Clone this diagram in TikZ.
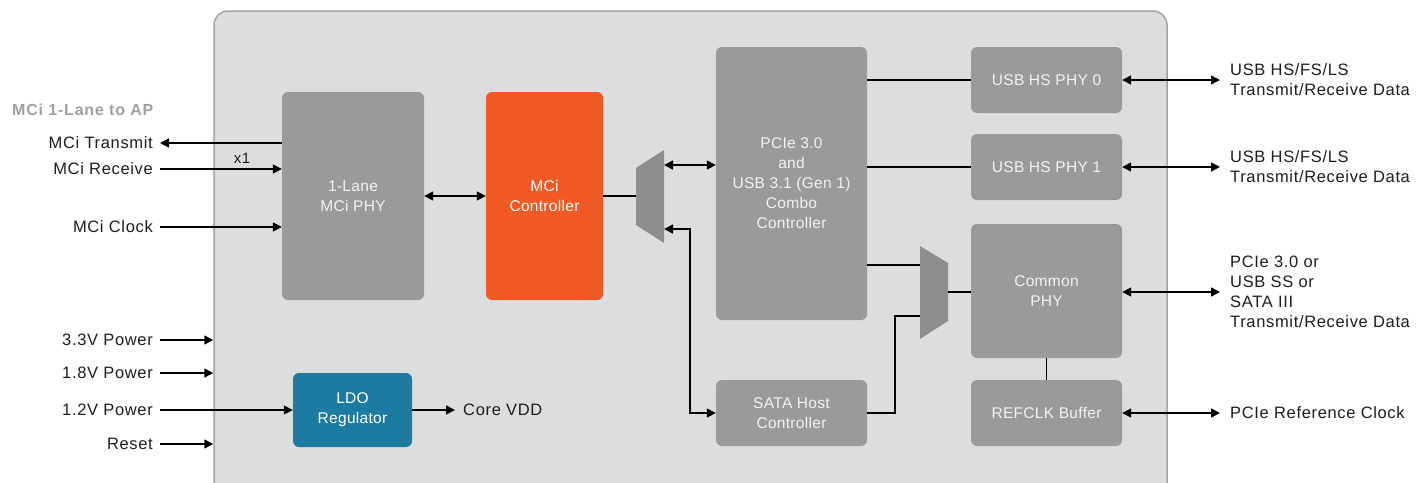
\documentclass[tikz,border=0pt]{standalone}
\usepackage{fontspec}
\setmainfont{Liberation Sans}
\newfontfamily\widefont{Liberation Sans}[LetterSpace=4]
\newfontfamily\midfont{Liberation Sans}[LetterSpace=2]
\usetikzlibrary{arrows.meta}
\definecolor{chipbg}{HTML}{DCDDDF}
\definecolor{chipbd}{HTML}{A3A4A6}
\definecolor{blockc}{HTML}{9A9A9A}
\definecolor{muxc}{HTML}{8E8E8E}
\definecolor{orng}{HTML}{F15A24}
\definecolor{blu}{HTML}{1D7BA1}
\definecolor{lblgray}{HTML}{A0A0A0}
\definecolor{txtc}{HTML}{1E1E1E}
\begin{document}
\begin{tikzpicture}[x=1pt,y=-1pt,
  gbox/.style={fill=blockc, rounded corners=6pt, inner sep=0pt, text=white!95!black, align=center, font=\midfont\fontsize{15.5}{20}\selectfont},
  obox/.style={gbox, fill=orng, text=white},
  bbox/.style={gbox, fill=blu, text=white},
  chip/.style={fill=chipbg, draw=chipbd, line width=1.5pt, rounded corners=14pt, inner sep=0pt},
  ltxt/.style={anchor=east, inner xsep=7pt, inner ysep=0pt, text=txtc, font=\widefont\fontsize{16.5}{20}\selectfont},
  rtxt/.style={anchor=west, inner xsep=10pt, inner ysep=0pt, align=left, text=txtc, font=\widefont\fontsize{16.5}{20}\selectfont},
  conn/.style={line width=1.5pt, draw=black},
  arr/.style={conn, -{Triangle[length=9pt,width=9pt]}},
  dbl/.style={conn, {Triangle[length=9pt,width=9pt]}-{Triangle[length=9pt,width=9pt]}},
]
\useasboundingbox (0,0) rectangle (1420,482);
\fill[white] (0,0) rectangle (1420,482);
% chip outline
\node[chip, minimum width=953pt, minimum height=509pt] (chipb) at (690.5,265.5) {};
% blocks
\node[gbox, minimum width=142pt, minimum height=208pt] (phy) at (353,196) {1-Lane\\MCi PHY};
\node[obox, minimum width=117pt, minimum height=208pt] (ctrl) at (544.5,196) {MCi\\Controller};
\node[gbox, minimum width=151pt, minimum height=273pt] (pcie) at (791.5,183.5) {PCIe 3.0\\and\\USB 3.1 (Gen 1)\\Combo\\Controller};
\node[gbox, minimum width=151pt, minimum height=66pt] (usb0) at (1046.5,80) {USB HS PHY 0};
\node[gbox, minimum width=151pt, minimum height=66pt] (usb1) at (1046.5,167) {USB HS PHY 1};
\node[gbox, minimum width=151pt, minimum height=134pt] (cphy) at (1046.5,291) {Common\\PHY};
\node[gbox, minimum width=151pt, minimum height=66pt] (refclk) at (1046.5,413) {REFCLK Buffer};
\node[gbox, minimum width=151pt, minimum height=66pt] (sata) at (791.5,413) {SATA Host\\Controller};
\node[bbox, minimum width=119pt, minimum height=74pt] (ldo) at (352.5,410) {LDO\\Regulator};
% muxes
\fill[muxc] (636,168) -- (664,150) -- (664,243) -- (636,225) -- cycle;
\coordinate (m1in) at (636,196);
\coordinate (m1a) at (664,165);
\coordinate (m1b) at (664,229);
\fill[muxc] (920,246) -- (948,263) -- (948,321) -- (920,339) -- cycle;
\coordinate (m2a) at (920,265);
\coordinate (m2b) at (920,316);
\coordinate (m2out) at (948,292);
% left labels
\node[anchor=west, inner sep=0pt, text=lblgray, font=\bfseries\fontsize{16}{18}\selectfont\addfontfeatures{LetterSpace=5}] (title) at (12,110) {MCi 1-Lane to AP};
\node[ltxt] (tx) at (160,143) {MCi Transmit};
\node[ltxt] (rx) at (160,169) {MCi Receive};
\node[ltxt] (clk) at (160,227) {MCi Clock};
\node[ltxt] (p33) at (160,340) {3.3V Power};
\node[ltxt] (p18) at (160,373) {1.8V Power};
\node[ltxt] (p12) at (160,410) {1.2V Power};
\node[ltxt] (rst) at (160,444) {Reset};
\node[inner sep=0pt, text=txtc, font=\widefont\fontsize{15}{18}\selectfont] (x1) at (242,158) {x1};
\node[anchor=west, inner xsep=8pt, inner ysep=0pt, text=txtc, font=\widefont\fontsize{16.5}{20}\selectfont] (vdd) at (455,410) {Core VDD};
% right labels
\node[rtxt] (o1) at (1220,80) {USB HS/FS/LS\\Transmit/Receive Data};
\node[rtxt] (o2) at (1220,167) {USB HS/FS/LS\\Transmit/Receive Data};
\node[rtxt] (o3) at (1220,292) {PCIe 3.0 or\\USB SS or\\SATA III\\Transmit/Receive Data};
\node[rtxt] (o4) at (1220,413) {PCIe Reference Clock};
% left connectors
\draw[arr] (tx.east -| phy.west) -- (tx.east);
\draw[arr] (rx.east) -- (rx.east -| phy.west);
\draw[arr] (clk.east) -- (clk.east -| phy.west);
\draw[arr] (p33.east) -- (p33.east -| chipb.west);
\draw[arr] (p18.east) -- (p18.east -| chipb.west);
\draw[arr] (rst.east) -- (rst.east -| chipb.west);
\draw[arr] (p12.east) -- (ldo.west);
\draw[arr] (ldo.east) -- (vdd.west);
% internal connectors
\draw[dbl] (phy.east) -- (ctrl.west);
\draw[conn] (ctrl.east |- m1in) -- (m1in);
\draw[dbl] (m1a) -- (m1a -| pcie.west);
\draw[dbl] (m1b) -- ++(26,0) |- (sata.west);
\draw[conn] (pcie.east |- usb0.west) -- (usb0.west);
\draw[conn] (pcie.east |- usb1.west) -- (usb1.west);
\draw[conn] (pcie.east |- m2a) -- (m2a);
\draw[conn] (sata.east) -- ++(28,0) |- (m2b);
\draw[conn] (m2out) -- (m2out -| cphy.west);
\draw[conn] (cphy.south) -- (refclk.north);
% right connectors
\draw[dbl] (usb0.east) -- (o1.west);
\draw[dbl] (usb1.east) -- (o2.west);
\draw[dbl] (cphy.east |- o3.west) -- (o3.west);
\draw[dbl] (refclk.east) -- (o4.west);
\end{tikzpicture}
\end{document}
